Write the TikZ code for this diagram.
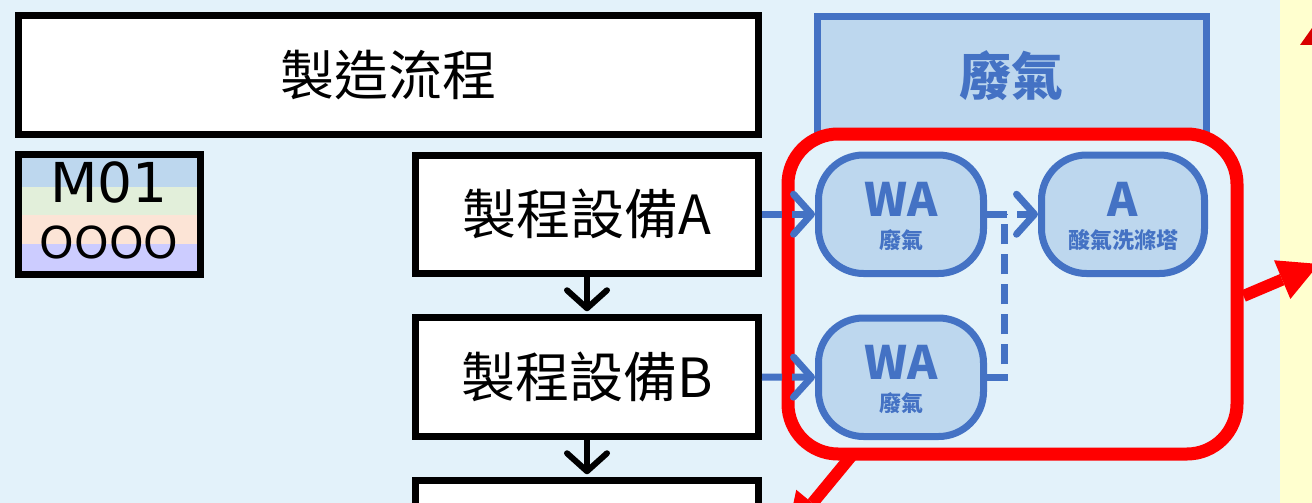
\documentclass[tikz,border=0pt]{standalone}
\usepackage{fontspec}
\setmainfont{Noto Sans CJK TC}
\newfontfamily\mfont{DejaVu Sans}
\usetikzlibrary{arrows.meta,calc}
\definecolor{bg}{HTML}{E3F2FA}
\definecolor{ylw}{HTML}{FFFFCF}
\definecolor{wblue}{HTML}{4472C4}
\definecolor{wfill}{HTML}{BDD7EE}
\definecolor{bandA}{HTML}{BDD7EE}
\definecolor{bandB}{HTML}{E2EFDA}
\definecolor{bandC}{HTML}{FCE4D6}
\definecolor{bandD}{HTML}{CCCCFF}
\tikzset{
  procbox/.style={draw=black, line width=7pt, fill=white, minimum width=343pt, minimum height=118.5pt, inner sep=0pt, font=\fontsize{54}{60}\selectfont},
  wabox/.style={draw=wblue, line width=7pt, fill=wfill, rounded corners=45pt, minimum width=165pt, minimum height=118.5pt, inner sep=0pt},
  bigtxt/.style={text=wblue, font=\fontsize{46}{50}\selectfont\bfseries, anchor=base, inner sep=0pt},
  smalltxt/.style={text=wblue, font=\fontsize{22}{24}\selectfont\bfseries, anchor=base, inner sep=0pt},
  blarrow/.style={draw=black, line width=6pt, line cap=round, -{Straight Barb[length=18pt,width=40pt,round]}},
  bluedash/.style={draw=wblue, line width=7pt, dash pattern=on 20pt off 10pt},
  bluearr/.style={bluedash, -{Straight Barb[length=18pt,width=40pt,round]}},
  redarr/.style={draw=red, line width=12pt, -{Triangle[length=40pt,width=42pt,line width=0pt]}},
}
\begin{document}
\begin{tikzpicture}[x=1pt,y=-1pt]
\useasboundingbox (0,0) rectangle (1312,503);
\clip (0,0) rectangle (1312,503);
\fill[bg] (0,0) rectangle (1312,503);
\fill[ylw] (1280,0) rectangle (1312,503);
\fill[red!85!black] (1300,45) -- (1312,28) -- (1312,45) -- cycle;

% title box
\node[procbox, minimum width=740pt, minimum height=118pt] (title) at (388,75) {製造流程};

% M01 legend
\fill[bandA] (22,158) rectangle (197,187);
\fill[bandB] (22,187) rectangle (197,215);
\fill[bandC] (22,215) rectangle (197,244);
\fill[bandD] (22,244) rectangle (197,271);
\node[draw=black, line width=7pt, minimum width=181.5pt, minimum height=120pt, inner sep=0pt] (m01) at (109.25,214.5) {};
\node[anchor=base, inner sep=0pt, font=\mfont\fontsize{55}{60}\selectfont] (m01t) at (109.25,202) {M01};
\node[anchor=base, inner sep=0pt, font=\mfont\fontsize{44}{46}\selectfont] (m01o) at (109.25,258) {OOOO};

% process boxes
\node[procbox] (pA) at (587,214.25) {製程設備A};
\node[procbox] (pB) at (587,377) {製程設備B};
\node[procbox] (pC) at (587,540) {};

\draw[blarrow, shorten >=3pt] (pA.south) -- (pB.north);
\draw[blarrow, shorten >=3pt] (pB.south) -- (pC.north);

% waste gas header
\node[draw=wblue, line width=7pt, fill=wfill, minimum width=388.5pt, minimum height=117.5pt, inner sep=0pt, text=wblue, font=\fontsize{52}{56}\selectfont\bfseries] (hdr) at (1011.75,75.25) {廢氣};

% red group
\node[draw=red, line width=13pt, rounded corners=50pt, minimum width=449pt, minimum height=320pt, inner sep=0pt] (grp) at (1012.5,294) {};

% blue nodes
\node[wabox] (wa1) at (901,214.25) {};
\node[bigtxt] (wa1t) at (901,216) {WA};
\node[smalltxt] (wa1s) at (901,248) {廢氣};
\node[wabox] (wa2) at (901,377.25) {};
\node[bigtxt] (wa2t) at (901,379) {WA};
\node[smalltxt] (wa2s) at (901,411) {廢氣};
\node[wabox, minimum width=163pt] (ac) at (1123,214.25) {};
\node[bigtxt] (act) at (1123,216) {A};
\node[smalltxt] (acs) at (1123,248) {酸氣洗滌塔};

% blue connectors
\draw[bluearr] (pA.east) -- (wa1.west);
\draw[bluearr] (pB.east) -- (wa2.west);
\coordinate (j) at ($(wa1.east)!0.336!(ac.west)$);
\draw[bluedash] (wa2.east) -| (j);
\draw[bluearr] (wa1.east) -- (ac.west);

% red arrows
\coordinate (r1s) at ($(grp.east)+(0,2)$);
\coordinate (r1e) at (1319,264);
\draw[redarr] (r1s) -- (r1e);
\coordinate (r2s) at (853,454);
\coordinate (r2e) at (787,534);
\draw[redarr] (r2s) -- (r2e);
\end{tikzpicture}
\end{document}
